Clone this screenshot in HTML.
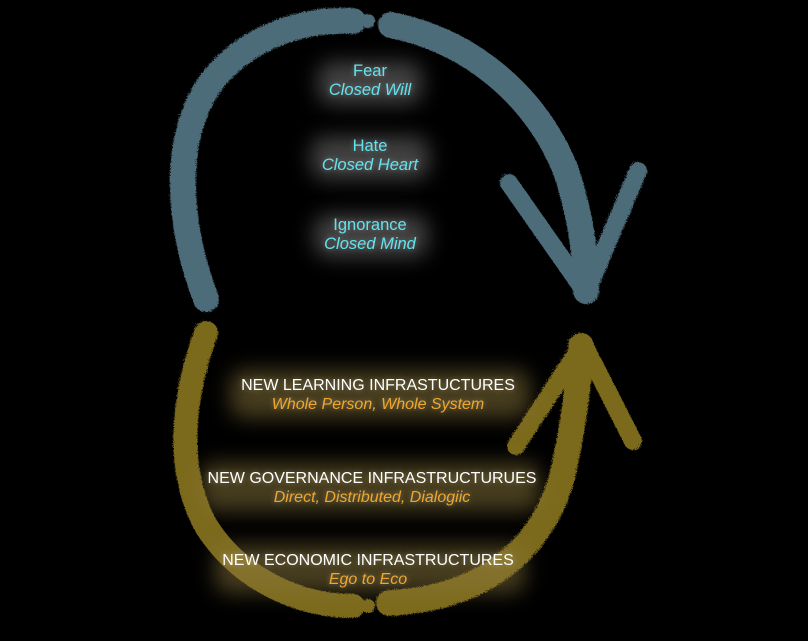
<!DOCTYPE html>
<html><head><style>
body{margin:0;background:#000;width:808px;height:641px;overflow:hidden;position:relative;font-family:"Liberation Sans",sans-serif}
svg{position:absolute;left:0;top:0}
.t{position:absolute;text-align:center;font-size:16px;line-height:19px;white-space:nowrap;transform:translateX(-50%)}
.b{color:#62e3ee;text-shadow:0 0 6px rgba(255,255,255,.35);font-size:16.5px}
.g{color:#fff;text-shadow:0 0 6px rgba(255,240,200,.4)}
.g i{color:#f2a72a}
.glow{position:absolute;border-radius:14px;filter:blur(10px)}
</style></head><body>
<svg width="808" height="641" viewBox="0 0 808 641">
<defs><filter id="r"><feTurbulence baseFrequency="0.9" numOctaves="2" result="n"/><feDisplacementMap in="SourceGraphic" in2="n" scale="4"/></filter></defs>
<g filter="url(#r)" fill="none" stroke-linecap="round">
<g stroke="#4d6c7a">
<path d="M205 298 C175 220 170 130 215 75 C255 30 310 18 352 20" stroke-width="26"/>
<path d="M390 24 C470 40 535 95 565 170 C580 215 585 255 585 290" stroke-width="26"/>
<path d="M508 182 L585 292" stroke-width="18"/>
<path d="M637 170 L585 292" stroke-width="18"/>
<circle cx="367" cy="20" r="7" fill="#4d6c7a" stroke="none"/>
</g>
<g stroke="#7b6a1c">
<path d="M205 332 C180 400 175 470 205 525 C240 580 300 605 352 605" stroke-width="24"/>
<path d="M388 602 C470 598 535 560 560 480 C572 430 578 380 580 345" stroke-width="26"/>
<path d="M515 445 L582 342" stroke-width="18"/>
<path d="M632 440 L582 342" stroke-width="18"/>
<circle cx="367" cy="605" r="7" fill="#7b6a1c" stroke="none"/>
</g>
</g>
</svg>
<div class="glow" style="left:318px;top:62px;width:104px;height:42px;background:rgba(130,130,130,.5)"></div>
<div class="glow" style="left:311px;top:137px;width:118px;height:42px;background:rgba(130,130,130,.5)"></div>
<div class="glow" style="left:314px;top:215px;width:114px;height:42px;background:rgba(130,130,130,.5)"></div>
<div class="glow" style="left:230px;top:370px;width:300px;height:48px;background:rgba(140,120,60,.5)"></div>
<div class="glow" style="left:200px;top:463px;width:340px;height:48px;background:rgba(140,120,60,.5)"></div>
<div class="glow" style="left:215px;top:545px;width:310px;height:48px;background:rgba(140,120,60,.5)"></div>
<div class="t b" style="left:370px;top:62px">Fear<br><i>Closed Will</i></div>
<div class="t b" style="left:370px;top:137px">Hate<br><i>Closed Heart</i></div>
<div class="t b" style="left:370px;top:216px">Ignorance<br><i>Closed Mind</i></div>
<div class="t g" style="left:378px;top:376px">NEW LEARNING INFRASTUCTURES<br><i>Whole Person, Whole System</i></div>
<div class="t g" style="left:372px;top:469px">NEW GOVERNANCE INFRASTRUCTURUES<br><i>Direct, Distributed, Dialogiic</i></div>
<div class="t g" style="left:368px;top:551px">NEW ECONOMIC INFRASTRUCTURES<br><i>Ego to Eco</i></div>
</body></html>
